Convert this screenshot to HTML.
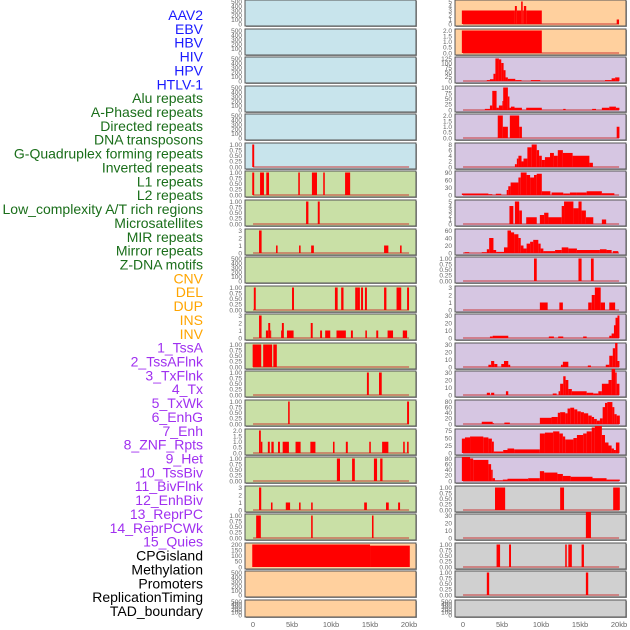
<!DOCTYPE html>
<html><head><meta charset="utf-8"><style>
html,body{margin:0;padding:0;background:#fff;width:630px;height:630px;overflow:hidden}
svg{display:block}
</style></head><body>
<svg id="chart" width="630" height="630" xmlns="http://www.w3.org/2000/svg" font-family="Liberation Sans, sans-serif">
<g id="labels"></g>
<g id="panels"></g>
<g id="xaxes"></g>
</svg>
<script>
// ---- labels ----
const labelNames = ["AAV2","EBV","HBV","HIV","HPV","HTLV-1","Alu repeats","A-Phased repeats","Directed repeats","DNA transposons","G-Quadruplex forming repeats","Inverted repeats","L1 repeats","L2 repeats","Low_complexity A/T rich regions","Microsatellites","MIR repeats","Mirror repeats","Z-DNA motifs","CNV","DEL","DUP","INS","INV","1_TssA","2_TssAFlnk","3_TxFlnk","4_Tx","5_TxWk","6_EnhG","7_Enh","8_ZNF_Rpts","9_Het","10_TssBiv","11_BivFlnk","12_EnhBiv","13_ReprPC","14_ReprPCWk","15_Quies","CPGisland","Methylation","Promoters","ReplicationTiming","TAD_boundary"];
const labelColors = ["#1a1aff","#1a1aff","#1a1aff","#1a1aff","#1a1aff","#1a1aff","#1a6e1a","#1a6e1a","#1a6e1a","#1a6e1a","#1a6e1a","#1a6e1a","#1a6e1a","#1a6e1a","#1a6e1a","#1a6e1a","#1a6e1a","#1a6e1a","#1a6e1a","#ffa500","#ffa500","#ffa500","#ffa500","#ffa500","#a030f0","#a030f0","#a030f0","#a030f0","#a030f0","#a030f0","#a030f0","#a030f0","#a030f0","#a030f0","#a030f0","#a030f0","#a030f0","#a030f0","#a030f0","#000","#000","#000","#000","#000"];

// ---- tick sets ----
const t500 = [0,100,200,300,400,500];
const t1 = [0,0.25,0.5,0.75,1];
const t3 = [0,1,2,3];
const t2 = [0,0.5,1,1.5,2];
const t5 = [0,1,2,3,4,5];
const t200 = [0,50,100,150,200];
const t125 = [0,25,50,75,100,125];
const t100 = [0,25,50,75,100];
const t8 = [0,2,4,6,8];
const t90 = [0,30,60,90];
const t60 = [0,20,40,60];
const t30 = [0,10,20,30];
const t80 = [0,20,40,60,80];
const t75 = [0,25,50,75];
const xTicks = [0,5,10,15,20];
const xTickLabels = ["0","5kb","10kb","15kb","20kb"];

// ---- bins [startKb,endKb,value] ----
const htlvBins=[[-0.1,0.15,1]];
const aluBins=[[-0.1,0.15,1],[0.9,1.4,1],[1.7,2.05,1],[5.8,6.0,1],[7.55,8.2,1],[9.0,9.2,1],[11.8,12.45,1]];
const aphasedBins=[[6.8,7.1,1],[8.3,8.55,1]];
const directedBins=[[0.77,1.1,3],[2.95,3.15,1],[5.9,6.1,1],[7.45,7.8,1],[16.8,17.35,1],[18.85,19.05,1]];
const gquadBins=[[0.1,0.35,1],[5.0,5.25,1],[10.5,10.85,1],[11.3,11.6,1],[13.1,13.4,1],[13.4,13.7,1],[13.85,14.1,1],[14.35,14.6,1],[16.8,17.1,1],[18.4,19,1],[19.75,20,1]];
const invertedBins=[[0.77,1.1,3],[1.65,1.95,1],[1.95,2.2,2],[2.2,2.25,1],[3.6,3.7,1],[3.7,3.95,2],[4.35,5.2,1],[7.4,7.65,2],[8.6,8.85,1],[9.25,9.9,1],[10.7,11.9,1],[12.55,12.8,1],[14.4,14.6,1],[15.8,16.05,1],[17.25,17.95,1],[19.2,19.75,1]];
const l1Bins=[[-0.05,1.05,1],[1.3,2.45,1],[2.6,3.05,1]];
const l2Bins=[[14.6,14.85,1],[16.15,16.5,1]];
const lowcBins=[[4.5,4.7,1],[19.75,20,1]];
const microBins=[[0.77,1.0,2],[1.0,1.2,1],[1.9,2.15,1],[2.35,2.65,1],[3.2,3.45,1],[3.8,4.6,1],[5.45,6.1,1],[7.35,8.0,1],[10.25,10.45,1],[11.9,12.15,1],[14.9,15.1,1],[16.55,17.35,1],[19.25,19.45,1],[19.75,19.95,1]];
const mirBins=[[10.75,11.15,1],[12.7,13.05,1],[15.5,15.9,1],[16.3,16.6,1]];
const mirrorBins=[[0.77,1.05,3],[2.3,2.5,1],[4.2,4.75,1],[5.9,6.1,1],[7.45,7.65,1],[14.25,14.6,1],[17.05,17.4,1],[18.6,18.85,1]];
const zdnaBins=[[0.4,1.0,1],[7.45,7.65,1],[15.25,15.45,1]];
const cnvBins=[[-0.1,15,200],[15,20.1,190]];
const insBins=[[-0.15,6.65,3],[6.65,6.9,4],[6.9,7.45,3],[7.45,7.65,5],[7.65,7.8,3],[7.8,8.1,4],[8.1,10.1,3],[19.7,20,1]];
const invBins=[[-0.15,10.1,2]];
const tssaBins=[[3.05,3.45,5],[3.45,3.9,10],[3.9,4.15,40],[4.15,4.6,125],[4.6,4.9,120],[4.9,5.2,100],[5.2,5.45,60],[5.45,5.75,20],[5.75,6.7,12],[6.7,7.5,5],[8.7,9.9,5],[18.2,19.05,5],[19.05,19.5,15],[19.5,20.05,20]];
const tssaflnkBins=[[2.8,3.45,5],[3.45,3.75,20],[3.75,4.3,85],[4.3,4.6,10],[4.6,5.05,20],[5.05,5.15,40],[5.15,5.75,100],[5.75,5.95,60],[5.95,6.15,10],[6.15,6.6,15],[6.6,7.55,10],[8.1,10.1,10],[12.85,13.15,5],[16.55,17.05,5],[17.8,18.75,10],[18.75,19.6,15],[19.6,20.05,10]];
const txflnkBins=[[4.45,5.1,2],[5.1,5.75,1],[6.0,7.2,2],[7.2,7.55,1],[19.7,20.05,1]];
const txBins=[[6.65,6.9,1],[6.9,7.1,3],[7.1,7.5,4],[7.5,7.75,2],[7.75,8.25,3],[8.25,8.8,7],[8.8,9.45,8],[9.45,9.75,6],[9.75,10.1,4],[10.1,10.5,2.5],[10.5,11.15,3.5],[11.15,11.65,5],[11.65,12.15,4],[12.15,12.8,6],[12.8,14.05,5],[14.05,16.2,4],[16.2,16.65,1.5]];
const txwkBins=[[-0.15,3.25,6],[3.25,3.75,3],[4.2,4.9,5],[5.6,5.8,20],[5.8,6.1,35],[6.1,7.1,50],[7.1,7.4,70],[7.4,8.15,90],[8.15,8.6,80],[8.6,9.1,70],[9.1,9.45,80],[9.45,10.1,85],[10.1,11.2,15],[11.35,12.85,10],[12.85,13.7,6],[13.7,14.6,10],[14.6,15.85,10],[15.85,17.8,15],[17.8,19.4,7]];
const enhgBins=[[5.95,6.45,4],[6.65,7.2,5],[7.2,7.55,3],[8.1,9.45,1.5],[9.85,10.4,2],[10.4,10.95,2.5],[10.95,12.65,1.5],[12.65,12.95,4],[12.95,14.15,5],[14.15,14.8,3.5],[14.8,15.2,5],[15.2,15.75,3],[15.75,16.7,1.5],[17.8,18.35,1]];
const enhBins=[[0.2,0.8,2],[2.4,3.05,2],[3.05,3.35,10],[3.35,3.9,40],[3.9,4.25,8],[4.25,5.25,3],[5.25,5.7,15],[5.7,6.15,60],[6.15,6.55,55],[6.55,7.1,50],[7.1,7.4,40],[7.4,7.75,20],[7.75,8.15,12],[8.15,8.6,25],[8.6,9.0,30],[9.0,9.65,35],[9.65,9.95,25],[9.95,10.3,12],[10.3,11.8,5],[11.8,12.65,8],[12.65,13.5,15],[13.5,14.6,12],[14.6,17.55,8],[17.55,18.4,10],[18.4,19.05,8],[19.2,19.9,5]];
const znfBins=[[9.1,9.45,1],[14.8,15.2,1],[16.4,16.75,1]];
const hetBins=[[9.85,10.85,1],[12.35,12.8,1],[16.05,16.5,1],[16.5,16.9,2],[16.9,17.65,3],[17.65,18.2,1],[18.75,19.5,1]];
const tssbivBins=[[3.45,3.8,2],[3.8,5.8,3],[11.0,11.65,2],[12.2,12.85,2],[15.4,15.85,2],[18.75,19.05,3],[19.05,19.35,6],[19.35,19.55,17],[19.55,19.8,27],[19.8,20.05,30]];
const bivflnkBins=[[3.25,3.6,3],[3.6,4.0,8],[4.0,4.4,4],[4.9,5.25,4],[5.25,5.8,8],[5.8,6.05,3],[12.55,12.8,3],[12.8,13.5,7],[16.0,16.4,2],[18.3,18.75,3],[18.75,19.2,15],[19.2,19.5,25],[19.5,19.8,32],[19.8,20.05,8]];
const enhbivBins=[[3.05,3.45,3],[3.6,4.0,3],[5.5,5.8,5],[11.5,12.0,2],[12.25,12.45,5],[12.45,12.85,15],[12.85,13.15,25],[13.15,13.5,20],[13.5,13.95,8],[13.95,15.85,5],[15.85,16.7,3],[16.7,17.35,2],[17.35,17.8,5],[17.8,18.65,15],[18.65,19.05,20],[19.05,19.5,35],[19.5,19.7,30],[19.7,20.05,15]];
const reprpcBins=[[2.4,3.8,8],[3.8,3.95,3],[5.3,6.0,5],[9.85,11.35,22],[11.35,12.15,25],[12.15,12.45,40],[12.45,13.1,42],[13.1,13.4,38],[13.4,13.75,55],[13.75,14.25,58],[14.25,14.65,52],[14.65,15.1,45],[15.1,15.5,42],[15.5,16.05,38],[16.05,16.5,30],[16.5,16.8,25],[16.8,17.15,18],[17.15,17.55,12],[17.55,17.9,20],[17.9,18.2,60],[18.2,18.5,75],[18.5,19.15,78],[19.15,19.4,60],[19.4,19.7,35],[19.7,20.1,30]];
const reprpcwkBins=[[-0.15,0.25,48],[0.25,0.9,52],[0.9,2.6,55],[2.6,3.25,52],[3.25,3.7,48],[3.7,3.95,38],[3.95,5.15,5],[5.15,5.7,10],[5.7,6.55,15],[6.55,9.85,12],[9.85,10.5,65],[10.5,11.55,68],[11.55,12.35,72],[12.35,12.8,65],[12.8,13.1,55],[13.1,14.15,45],[14.15,14.6,50],[14.6,15.4,60],[15.4,15.85,65],[15.85,16.5,72],[16.5,16.9,85],[16.9,17.8,90],[17.8,18.2,60],[18.2,18.65,35],[18.65,19.05,25],[19.05,19.35,15],[19.35,19.6,10],[19.6,20.05,35]];
const quiesBins=[[-0.15,0.9,85],[0.9,1.3,80],[1.3,3.25,75],[3.25,3.6,60],[3.6,3.8,40],[3.8,4.1,10],[4.1,5.1,2],[5.1,5.7,5],[5.7,8.35,8],[8.35,9.85,10],[9.85,10.4,35],[10.4,12.1,30],[12.1,12.8,25],[12.8,13.8,18],[13.8,16.6,15],[16.6,18.4,10],[18.4,20.1,5]];
const cpgBins=[[4.1,5.4,1],[12.45,12.95,1],[19.25,20.1,1]];
const methBins=[[15.75,16.4,35]];
const promBins=[[4.3,4.75,1],[5.9,6.15,1],[13.1,13.3,1],[13.5,13.95,1],[15.2,15.5,1]];
const repBins=[[3.05,3.35,1],[15.75,16.05,1]];
const emptyBins=[];

const C_BLUE="#c8e4ec",C_GREEN="#c9e0a6",C_PEACH="#ffd09e",C_LAV="#d6c6e2",C_GRAY="#d0d0d0";
// [name, col, row, bg, ticks, bins, baseline]
const panels=[
 ["aav2",0,0,C_BLUE,t500,emptyBins,0],["ebv",0,1,C_BLUE,t500,emptyBins,0],["hbv",0,2,C_BLUE,t500,emptyBins,0],["hiv",0,3,C_BLUE,t500,emptyBins,0],["hpv",0,4,C_BLUE,t500,emptyBins,0],
 ["htlv1",0,5,C_BLUE,t1,htlvBins,1],["alu",0,6,C_GREEN,t1,aluBins,1],["a-phased",0,7,C_GREEN,t1,aphasedBins,1],["directed",0,8,C_GREEN,t3,directedBins,1],["dna-transposons",0,9,C_GREEN,t500,emptyBins,0],
 ["g-quadruplex",0,10,C_GREEN,t1,gquadBins,1],["inverted",0,11,C_GREEN,t3,invertedBins,1],["l1",0,12,C_GREEN,t1,l1Bins,1],["l2",0,13,C_GREEN,t1,l2Bins,1],["low-complexity",0,14,C_GREEN,t1,lowcBins,1],
 ["microsatellites",0,15,C_GREEN,t2,microBins,1],["mir",0,16,C_GREEN,t1,mirBins,1],["mirror",0,17,C_GREEN,t3,mirrorBins,1],["z-dna",0,18,C_GREEN,t1,zdnaBins,1],["cnv",0,19,C_PEACH,t200,cnvBins,0],
 ["del",0,20,C_PEACH,t500,emptyBins,0],["dup",0,21,C_PEACH,t500,emptyBins,0],
 ["ins",1,0,C_PEACH,t5,insBins,1],["inv",1,1,C_PEACH,t2,invBins,1],["tssa",1,2,C_LAV,t125,tssaBins,1],["tssaflnk",1,3,C_LAV,t100,tssaflnkBins,1],["txflnk",1,4,C_LAV,t2,txflnkBins,1],
 ["tx",1,5,C_LAV,t8,txBins,1],["txwk",1,6,C_LAV,t90,txwkBins,1],["enhg",1,7,C_LAV,t5,enhgBins,1],["enh",1,8,C_LAV,t60,enhBins,1],["znf",1,9,C_LAV,t1,znfBins,1],
 ["het",1,10,C_LAV,t3,hetBins,1],["tssbiv",1,11,C_LAV,t30,tssbivBins,1],["bivflnk",1,12,C_LAV,t30,bivflnkBins,1],["enhbiv",1,13,C_LAV,t30,enhbivBins,1],["reprpc",1,14,C_LAV,t80,reprpcBins,1],
 ["reprpcwk",1,15,C_LAV,t75,reprpcwkBins,1],["quies",1,16,C_LAV,t80,quiesBins,1],["cpgisland",1,17,C_GRAY,t1,cpgBins,1],["methylation",1,18,C_GRAY,t30,methBins,1],["promoters",1,19,C_GRAY,t1,promBins,1],
 ["replication-timing",1,20,C_GRAY,t1,repBins,1],["tad-boundary",1,21,C_GRAY,t500,emptyBins,0]
];

const NS="http://www.w3.org/2000/svg";
function mk(tag,attrs,parent){const e=document.createElementNS(NS,tag);for(const k in attrs)e.setAttribute(k,attrs[k]);parent.appendChild(e);return e;}
const colX=[245,455], PW=171, KB0=-1.03, KBW=7.8;
function xScale(col,kb){return colX[col]+(kb-KB0)*KBW;}
function rowTop(r){return Math.round(r*28.57);}
function rowH(r){return r===21?17:26;}
function fmt(v,ticks){const m=Math.max(...ticks);if(m===1)return v.toFixed(2);if(m===2&&ticks.length===5)return v.toFixed(1);return String(v);}

// labels
const lg=document.getElementById('labels');
labelNames.forEach((n,i)=>{
  const t=mk('text',{x:203,y:(15+i*13.86+5).toFixed(1),'text-anchor':'end','font-size':'14',fill:labelColors[i]},lg);
  
  
  t.textContent=n;
});

// panels
const pg=document.getElementById('panels');
panels.forEach(p=>{
  const [name,col,row,bg,ticks,bins,base]=p;
  const top=rowTop(row),h=rowH(row),x0=colX[col];
  const g=mk('g',{},pg);
  
  
  const ymax=Math.max(...ticks);
  const y=v=>top+h-2-(v/ymax)*(h-3.5);
  mk('rect',{x:x0+1,y:top+1,width:PW,height:h,fill:'#999'},g);
  const bgR=mk('rect',{x:x0,y:top,width:PW,height:h,fill:bg,stroke:'#555','stroke-width':1},g);
  
  
  if(base){
    const bl=mk('rect',{x:xScale(col,0),y:y(0)-1,width:20*KBW,height:2,fill:'rgba(200,40,40,0.45)'},g);
    
    
  }
  bins.forEach(b=>{
    const xa=xScale(col,b[0]),xb=xScale(col,b[1]);
    const r=mk('rect',{x:xa.toFixed(2),y:y(b[2]).toFixed(2),width:Math.max(1,xb-xa).toFixed(2),height:(y(0)-y(b[2])).toFixed(2),fill:'#ff0000'},g);
    
    
  });
  ticks.forEach(v=>{
    const t=mk('text',{x:x0-3,y:(y(v)+2.3).toFixed(1),'text-anchor':'end','font-size':'6.5',fill:'#666'},g);
    
    
    t.textContent=fmt(v,ticks);
  });
});

// x axes
const xg=document.getElementById('xaxes');
[0,1].forEach(col=>{
  xTicks.forEach((v,i)=>{
    const t=mk('text',{x:xScale(col,v).toFixed(1),y:627,'text-anchor':'middle','font-size':'7.5',fill:'#666'},xg);
    
    
    t.textContent=xTickLabels[i];
  });
});
</script>
</body></html>
